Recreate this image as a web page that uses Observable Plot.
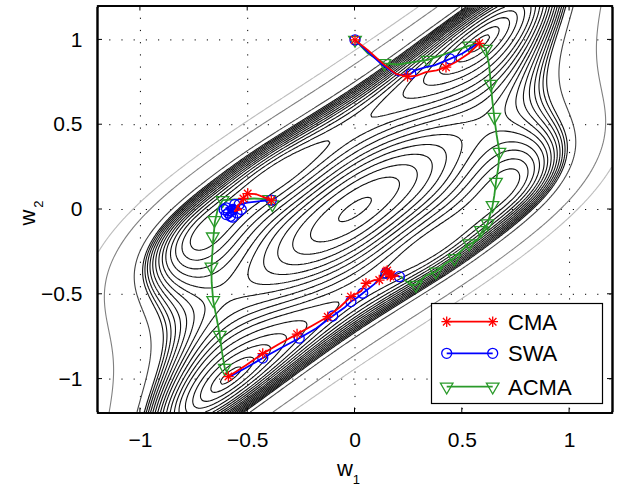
<!DOCTYPE html>
<html><head><meta charset="utf-8">
<script src="https://cdn.jsdelivr.net/npm/d3@7"></script>
<script src="https://cdn.jsdelivr.net/npm/@observablehq/plot@0.6"></script>
<style>body{margin:0;background:#fff} #chart{width:619px;height:486px}</style>
</head><body><div id="chart"></div>
<script>
// ---- axes / ticks
const xDomain = [-1.2, 1.2];
const yDomain = [-1.2, 1.2];
const xTicks = [-1, -0.5, 0, 0.5, 1];
const yTicks = [-1, -0.5, 0, 0.5, 1];

// ---- cost surface: global minimum and local minimum (others by w -> -w)
const minGlobal = [0.58, 0.98];
const minLocal = [-0.57, 0.0];
const wellRatio = 2;
const centerBump = {height: 0.5, slope: 0.85, long: 0.45, short: 0.3};
const localRaise = {height: 0.8, width: 0.3};
const contourLevels = [0.03, 0.12, 0.3, 0.5, 0.75, 1.02, 1.25, 1.5, 1.75, 2.02, 2.25, 2.5, 2.75, 3.0, 3.25, 3.5, 3.75, 4.0];
const greyLevels = [5, 10, 16];
const greyColors = ["#444", "#808080", "#bdbdbd"];

// ---- trajectories (w1, w2)
const cmaUpper = [[0,1],[0.06,0.94],[0.13,0.86],[0.19,0.8],[0.245,0.784],[0.29,0.79],[0.33,0.81],[0.38,0.82],[0.424,0.839],[0.47,0.87],[0.53,0.92],[0.579,0.98]];
const cmaUpperMarks = [[0,1],[0.245,0.784],[0.424,0.839],[0.579,0.98]];
const swaUpper = [[0,1],[0.06,0.93],[0.13,0.85],[0.2,0.79],[0.26,0.80],[0.28,0.82],[0.33,0.84],[0.37,0.85],[0.443,0.888],[0.5,0.92],[0.58,0.985]];
const swaUpperMarks = [[0,1],[0.26,0.80],[0.443,0.888]];
const acmaUpper = [[0,1],[0.06,0.92],[0.137,0.862],[0.2,0.855],[0.339,0.882],[0.45,0.93],[0.533,0.966],[0.58,0.98],[0.61,0.947],[0.625,0.85],[0.633,0.74],[0.64,0.64],[0.649,0.545],[0.66,0.44],[0.673,0.339],[0.668,0.25],[0.657,0.162],[0.649,0.08],[0.64,0.015],[0.618,-0.082],[0.595,-0.122],[0.571,-0.18],[0.524,-0.21],[0.49,-0.25],[0.463,-0.288],[0.42,-0.32],[0.377,-0.367],[0.33,-0.39],[0.284,-0.445],[0.26,-0.445],[0.214,-0.396]];
const acmaUpperMarks = [[0,1],[0.137,0.862],[0.339,0.882],[0.533,0.966],[0.61,0.947],[0.633,0.74],[0.649,0.545],[0.673,0.339],[0.657,0.162],[0.641,0.025],[0.618,-0.082],[0.587,-0.122],[0.532,-0.2],[0.463,-0.288],[0.377,-0.367],[0.284,-0.445]];

const cmaLower = [[0.2,-0.39],[0.17,-0.40],[0.18,-0.37],[0.15,-0.36],[0.16,-0.39],[0.144,-0.367],[0.113,-0.416],[0.09,-0.416],[0.051,-0.435],[0.03,-0.48],[-0.019,-0.514],[-0.07,-0.575],[-0.127,-0.632],[-0.2,-0.685],[-0.27,-0.735],[-0.35,-0.79],[-0.43,-0.85],[-0.51,-0.92],[-0.59,-0.985]];
const cmaLowerMarks = [[0.17,-0.385],[0.15,-0.36],[0.165,-0.395],[0.144,-0.367],[0.113,-0.416],[0.051,-0.435],[-0.019,-0.514],[-0.127,-0.632],[-0.27,-0.735],[-0.43,-0.85],[-0.59,-0.985]];
const swaLower = [[0.207,-0.396],[0.18,-0.38],[0.144,-0.376],[0.12,-0.40],[0.09,-0.44],[0.06,-0.47],[0.036,-0.494],[0.01,-0.52],[-0.019,-0.543],[-0.05,-0.58],[-0.104,-0.628],[-0.18,-0.70],[-0.26,-0.759],[-0.35,-0.82],[-0.43,-0.876],[-0.51,-0.935],[-0.59,-0.99]];
const swaLowerMarks = [[0.207,-0.396],[0.144,-0.376],[0.036,-0.494],[-0.019,-0.543],[-0.104,-0.628],[-0.26,-0.759],[-0.43,-0.876]];

const cmaLeft = [[-0.39,0.055],[-0.42,0.07],[-0.46,0.09],[-0.5,0.094],[-0.52,0.07],[-0.53,0.04],[-0.55,0.02],[-0.53,0.0],[-0.56,-0.01],[-0.54,0.03]];
const cmaLeftMarks = [[-0.39,0.055],[-0.5,0.094],[-0.52,0.065]];
const swaLeft = [[-0.39,0.055],[-0.44,0.05],[-0.5,0.04],[-0.54,0.03],[-0.57,0.0],[-0.6,-0.03],[-0.58,-0.04],[-0.55,-0.02],[-0.6,0.01],[-0.56,0.03],[-0.59,-0.02]];
const swaLeftMarks = [[-0.39,0.055],[-0.54,0.03],[-0.57,0.0],[-0.6,-0.03],[-0.58,-0.04],[-0.55,-0.02],[-0.6,0.01],[-0.56,0.03],[-0.59,-0.02],[-0.53,0.0],[-0.57,-0.045],[-0.61,0.0]];
const acmaLeft = [[-0.385,0.03],[-0.40,0.06],[-0.47,0.065],[-0.55,0.06],[-0.617,0.055],[-0.64,0.0],[-0.653,-0.073],[-0.661,-0.18],[-0.665,-0.26],[-0.669,-0.338],[-0.668,-0.43],[-0.661,-0.535],[-0.645,-0.64],[-0.63,-0.74],[-0.62,-0.84],[-0.607,-0.935],[-0.584,-0.985]];
const acmaLeftMarks = [[-0.385,0.03],[-0.40,0.06],[-0.617,0.055],[-0.655,-0.063],[-0.663,-0.16],[-0.669,-0.338],[-0.661,-0.535],[-0.63,-0.74],[-0.607,-0.935]];

const seriesNames = ["CMA", "SWA", "ACMA"];
const seriesColors = ["#ff0000", "#0000ff", "#2a9a2a"];

// ---- surface
const e1 = [(minGlobal[0] + minLocal[0]) / 2, (minGlobal[1] + minLocal[1]) / 2];
const e2 = [(minGlobal[0] - minLocal[0]) / 2, (minGlobal[1] - minLocal[1]) / 2];
const det = e1[0] * e2[1] - e2[0] * e1[1];
const th = Math.atan(centerBump.slope), ct = Math.cos(th), st = Math.sin(th);
function cost(w1, w2) {
  const c1 = (e2[1] * w1 - e2[0] * w2) / det;
  const c2 = (-e1[1] * w1 + e1[0] * w2) / det;
  const p = w1 * ct + w2 * st, q = -w1 * st + w2 * ct;
  const dA = (w1 - minLocal[0]) ** 2 + (w2 - minLocal[1]) ** 2;
  const dB = (w1 + minLocal[0]) ** 2 + (w2 + minLocal[1]) ** 2;
  return wellRatio * (c1 * c1 - 1) ** 2 + (c2 * c2 - 1) ** 2
    + centerBump.height * Math.exp(-(p * p / centerBump.long ** 2 + q * q / centerBump.short ** 2))
    + localRaise.height * (Math.exp(-dA / localRaise.width ** 2) + Math.exp(-dB / localRaise.width ** 2));
}

const X = d => d[0], Y = d => d[1];
const lw = 1.8;
function starMarks(data, color) {
  return [
    Plot.dot(data, {x: X, y: Y, symbol: "plus", r: 3.5, stroke: color, strokeWidth: 1.3}),
    Plot.dot(data, {x: X, y: Y, symbol: "times", r: 3.5, stroke: color, strokeWidth: 1.3})
  ];
}
function circleMarks(data, color) {
  return Plot.dot(data, {x: X, y: Y, symbol: "circle", r: 5, stroke: color, fill: "none", strokeWidth: 1.3});
}
function triMarks(data, color) {
  return Plot.dot(data, {x: X, y: Y, symbol: "triangle2", r: 6, rotate: 180, stroke: color, fill: "none", strokeWidth: 1.3});
}
const fmt = d => String(d).replace("-", "\u2212");

const ext = {x1: xDomain[0], x2: xDomain[1], y1: yDomain[0], y2: yDomain[1]};
const plot = Plot.plot({
  width: 619, height: 486,
  marginLeft: 97, marginRight: 7, marginTop: 5.5, marginBottom: 73.5,
  x: {domain: xDomain}, y: {domain: yDomain},
  style: {fontFamily: "'Liberation Sans', Arial, sans-serif", background: "#fff"},
  marks: [
    Plot.gridX(xTicks, {stroke: "#000", strokeOpacity: 1, strokeDasharray: "1.2,11"}),
    Plot.gridY(yTicks, {stroke: "#000", strokeOpacity: 1, strokeDasharray: "1.2,11"}),
    ...greyLevels.map((lv, i) => Plot.contour({...ext, value: cost, thresholds: [lv], stroke: greyColors[i], fill: "none", strokeWidth: 1.1})),
    Plot.contour({...ext, value: cost, thresholds: contourLevels, stroke: "#111", fill: "none", strokeWidth: 1.1}),
    Plot.line(acmaUpper, {x: X, y: Y, stroke: seriesColors[2], strokeWidth: lw}),
    Plot.line(acmaLeft, {x: X, y: Y, stroke: seriesColors[2], strokeWidth: lw}),
    triMarks(acmaUpperMarks, seriesColors[2]),
    triMarks(acmaLeftMarks, seriesColors[2]),
    Plot.line(swaUpper, {x: X, y: Y, stroke: seriesColors[1], strokeWidth: lw}),
    Plot.line(swaLower, {x: X, y: Y, stroke: seriesColors[1], strokeWidth: lw}),
    Plot.line(swaLeft, {x: X, y: Y, stroke: seriesColors[1], strokeWidth: lw}),
    circleMarks(swaUpperMarks, seriesColors[1]),
    circleMarks(swaLowerMarks, seriesColors[1]),
    circleMarks(swaLeftMarks, seriesColors[1]),
    Plot.line(cmaUpper, {x: X, y: Y, stroke: seriesColors[0], strokeWidth: lw}),
    Plot.line(cmaLower, {x: X, y: Y, stroke: seriesColors[0], strokeWidth: lw}),
    Plot.line(cmaLeft, {x: X, y: Y, stroke: seriesColors[0], strokeWidth: lw}),
    ...starMarks(cmaUpperMarks, seriesColors[0]),
    ...starMarks(cmaLowerMarks, seriesColors[0]),
    ...starMarks(cmaLeftMarks, seriesColors[0]),
    Plot.frame({stroke: "#000", strokeWidth: 1.4}),
    Plot.axisX(xTicks, {tickSize: 0, tickPadding: 19, fontSize: 21, label: null, fill: "#000", tickFormat: fmt}),
    Plot.axisY(yTicks, {tickSize: 0, tickPadding: 15, fontSize: 21, label: null, fill: "#000", tickFormat: fmt})
  ]
});
document.getElementById("chart").appendChild(plot);

// ---- overlay: inward ticks, axis labels, legend
const sx = plot.scale("x"), sy = plot.scale("y");
const svg = d3.select(plot);
const L = sx.apply(xDomain[0]), R = sx.apply(xDomain[1]);
const B = sy.apply(yDomain[0]), T = sy.apply(yDomain[1]);
const tk = svg.append("g").attr("stroke", "#000").attr("stroke-width", 1);
for (const t of xTicks) {
  const x = sx.apply(t);
  tk.append("line").attr("x1", x).attr("x2", x).attr("y1", B).attr("y2", B - 5);
  tk.append("line").attr("x1", x).attr("x2", x).attr("y1", T).attr("y2", T + 5);
}
for (const t of yTicks) {
  const y = sy.apply(t);
  tk.append("line").attr("y1", y).attr("y2", y).attr("x1", L).attr("x2", L + 5);
  tk.append("line").attr("y1", y).attr("y2", y).attr("x1", R).attr("x2", R - 5);
}
const font = "'Liberation Sans', Arial, sans-serif";
const xl = svg.append("text").attr("x", (L + R) / 2 - 6).attr("y", 476).attr("text-anchor", "middle").attr("font-family", font).attr("font-size", 22);
xl.append("tspan").text("w");
xl.append("tspan").attr("font-size", 13).attr("dy", 8).text("1");
const yl = svg.append("text").attr("transform", `translate(35,${(T + B) / 2 + 4}) rotate(-90)`).attr("text-anchor", "middle").attr("font-family", font).attr("font-size", 22);
yl.append("tspan").text("w");
yl.append("tspan").attr("font-size", 13).attr("dy", 8).attr("dx", 2).text("2");

const lg = svg.append("g");
lg.append("rect").attr("x", 431.5).attr("y", 303.5).attr("width", 171).attr("height", 100).attr("fill", "#fff").attr("stroke", "#000").attr("stroke-width", 1.2);
const rowsY = [321.7, 353.3, 386.7];
const sym = (type, size) => d3.symbol(type, size)();
seriesNames.forEach((name, i) => {
  const y = rowsY[i], c = seriesColors[i];
  lg.append("line").attr("x1", 446.7).attr("x2", 492.7).attr("y1", y).attr("y2", y).attr("stroke", c).attr("stroke-width", lw);
  for (const x of [446.7, 492.7]) {
    const g = lg.append("g").attr("transform", `translate(${x},${y})`).attr("fill", "none").attr("stroke", c).attr("stroke-width", 1.3);
    if (i === 0) { g.append("path").attr("d", sym(d3.symbolPlus, Math.PI * 3.5 * 3.5)); g.append("path").attr("d", sym(d3.symbolTimes, Math.PI * 3.5 * 3.5)); }
    if (i === 1) g.append("circle").attr("r", 5);
    if (i === 2) g.append("path").attr("transform", "rotate(180)").attr("d", sym(d3.symbolTriangle2, Math.PI * 36));
  }
  lg.append("text").attr("x", 508).attr("y", y).attr("dy", "0.36em").attr("text-anchor", "start").attr("font-family", font).attr("font-size", 22).text(name);
});
</script></body></html>
